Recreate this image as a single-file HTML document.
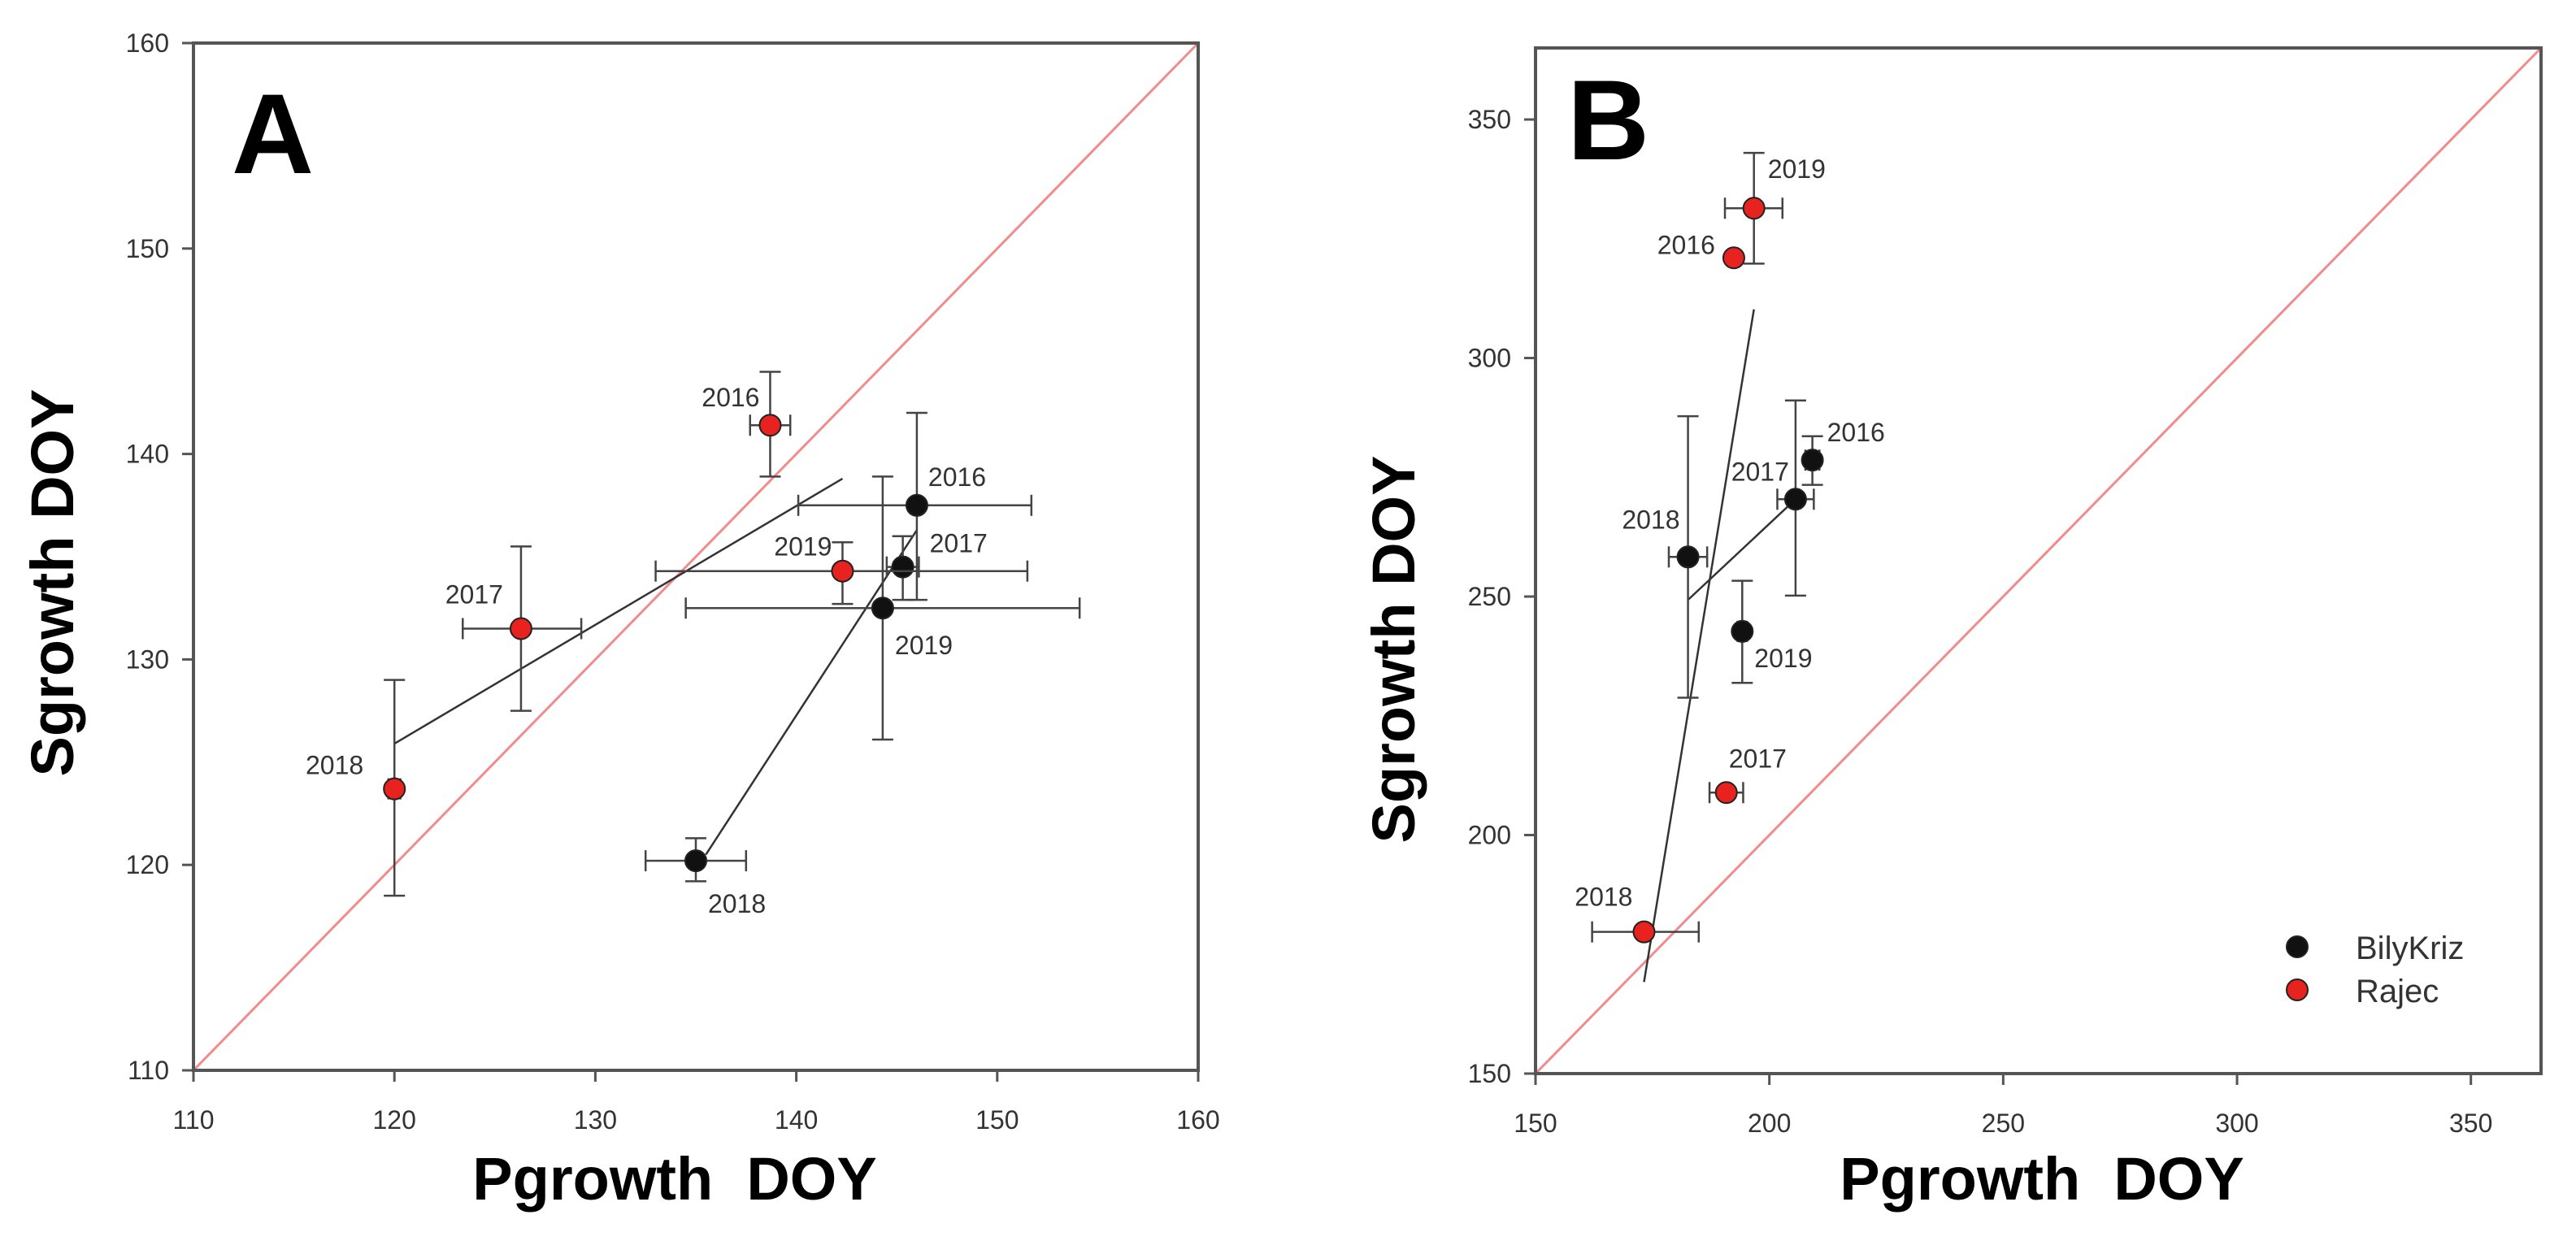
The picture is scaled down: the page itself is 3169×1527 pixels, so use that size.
<!DOCTYPE html>
<html><head><meta charset="utf-8"><style>
html,body{margin:0;padding:0;background:#fff;}
svg{display:block;font-family:"Liberation Sans",Arial,sans-serif;}
</style></head><body>
<svg id="chart" width="3169" height="1527" viewBox="0 0 3169 1527" xmlns="http://www.w3.org/2000/svg"></svg>
<script>
// ---- Panel A data ----
const aYears = ["2016","2017","2018","2019"];
const aRajecX = [138.7,126.3,120.0,142.3];
const aRajecY = [141.4,131.5,123.7,134.3];
const aRajecXLo = [137.7,123.4,119.7,133.0];
const aRajecXHi = [139.7,129.3,120.3,151.5];
const aRajecYLo = [138.9,127.5,118.5,132.7];
const aRajecYHi = [144.0,135.5,129.0,135.7];
const aBilyX = [146.0,145.3,135.0,144.3];
const aBilyY = [137.5,134.5,120.2,132.5];
const aBilyXLo = [140.1,144.5,132.5,134.5];
const aBilyXHi = [151.7,146.1,137.5,154.1];
const aBilyYLo = [132.9,132.9,119.2,126.1];
const aBilyYHi = [142.0,136.0,121.3,138.9];
const aRajecFitX = [120.0,142.3];
const aRajecFitY = [125.9,138.8];
const aBilyFitX = [135.5,146.0];
const aBilyFitY = [120.5,136.3];
const aTicks = [110,120,130,140,150,160];
// ---- Panel B data ----
const bYears = ["2016","2017","2018","2019"];
const bRajecX = [192.4,190.8,173.2,196.7];
const bRajecY = [321.0,208.9,179.7,331.4];
const bRajecXLo = [192.4,187.2,162.1,190.5];
const bRajecXHi = [192.4,194.4,184.9,202.8];
const bRajecYLo = [321.0,208.9,179.7,319.8];
const bRajecYHi = [321.0,208.9,179.7,343.0];
const bBilyX = [209.2,205.6,182.6,194.2];
const bBilyY = [278.6,270.4,258.3,242.7];
const bBilyXLo = [207.7,201.7,178.5,193.2];
const bBilyXHi = [210.7,209.5,186.7,195.2];
const bBilyYLo = [273.4,250.2,228.8,231.9];
const bBilyYHi = [283.6,291.1,287.8,253.3];
const bRajecFitX = [173.2,196.7];
const bRajecFitY = [169.2,310.2];
const bBilyFitX = [182.6,205.6];
const bBilyFitY = [249.3,270.4];
const bXTicks = [150,200,250,300,350];
const bYTicks = [150,200,250,300,350];

const NS="http://www.w3.org/2000/svg";
const svg=document.getElementById('chart');
function el(tag,attrs,parent){const e=document.createElementNS(NS,tag);for(const k in attrs)e.setAttribute(k,attrs[k]);(parent||svg).appendChild(e);return e;}
function txt(s,attrs,parent){const e=el('text',attrs,parent);e.textContent=s;return e;}

function panel(cfg){
  const g=el('g',{});
  
  
  const sx=v=>cfg.L+(v-cfg.min)/(cfg.max-cfg.min)*(cfg.R-cfg.L);
  const sy=v=>cfg.B-(v-cfg.min)/(cfg.max-cfg.min)*(cfg.B-cfg.T);
  // diagonal
  const d=el('line',{x1:sx(cfg.min),y1:sy(cfg.min),x2:sx(cfg.max),y2:sy(cfg.max),stroke:'#f28b8b','stroke-width':3},g);
  
  
  // frame
  const f=el('rect',{x:cfg.L,y:cfg.T,width:cfg.R-cfg.L,height:cfg.B-cfg.T,fill:'none',stroke:'#555','stroke-width':4},g);
  
  
  // ticks
  cfg.xt.forEach(v=>{
    el('line',{x1:sx(v),y1:cfg.B,x2:sx(v),y2:cfg.B+14,stroke:'#555','stroke-width':3},g);
    const t=txt(String(v),{x:sx(v),y:cfg.B+72,'text-anchor':'middle','font-size':32,fill:'#333'},g);
    
    
  });
  cfg.yt.forEach(v=>{
    el('line',{x1:cfg.L-14,y1:sy(v),x2:cfg.L,y2:sy(v),stroke:'#555','stroke-width':3},g);
    const t=txt(String(v),{x:cfg.L-30,y:sy(v)+11,'text-anchor':'end','font-size':32,fill:'#333'},g);
    
    
  });
  // fit lines
  const fr=el('line',{x1:sx(cfg.rfx[0]),y1:sy(cfg.rfy[0]),x2:sx(cfg.rfx[1]),y2:sy(cfg.rfy[1]),stroke:'#333','stroke-width':2.5},g);
  
  
  const fb=el('line',{x1:sx(cfg.bfx[0]),y1:sy(cfg.bfy[0]),x2:sx(cfg.bfx[1]),y2:sy(cfg.bfy[1]),stroke:'#333','stroke-width':2.5},g);
  
  
  function series(X,Y,XL,XH,YL,YH,color,labs,key){
    X.forEach((x,i)=>{
      const c=13;
      const eg=el('g',{stroke:'#444','stroke-width':2.5},g);
      
      
      if(XH[i]-XL[i]>0.01){
        el('line',{x1:sx(XL[i]),y1:sy(Y[i]),x2:sx(XH[i]),y2:sy(Y[i])},eg);
        el('line',{x1:sx(XL[i]),y1:sy(Y[i])-c,x2:sx(XL[i]),y2:sy(Y[i])+c},eg);
        el('line',{x1:sx(XH[i]),y1:sy(Y[i])-c,x2:sx(XH[i]),y2:sy(Y[i])+c},eg);
      }
      if(YH[i]-YL[i]>0.01){
        el('line',{x1:sx(x),y1:sy(YL[i]),x2:sx(x),y2:sy(YH[i])},eg);
        el('line',{x1:sx(x)-c,y1:sy(YL[i]),x2:sx(x)+c,y2:sy(YL[i])},eg);
        el('line',{x1:sx(x)-c,y1:sy(YH[i]),x2:sx(x)+c,y2:sy(YH[i])},eg);
      }
    });
    X.forEach((x,i)=>{
      const p=el('circle',{cx:sx(x),cy:sy(Y[i]),r:13,fill:color,stroke:'#222','stroke-width':2},g);
      
      
      const L=labs[i];
      const t=txt(cfg.years[i],{x:sx(x)+L[0],y:sy(Y[i])+L[1],'text-anchor':L[2],'font-size':32,fill:'#333'},g);
      
      
    });
  }
  series(cfg.bx,cfg.by,cfg.bxl,cfg.bxh,cfg.byl,cfg.byh,'#111',cfg.blab,'bilykriz');
  series(cfg.rx,cfg.ry,cfg.rxl,cfg.rxh,cfg.ryl,cfg.ryh,'#e8231f',cfg.rlab,'rajec');
  // panel letter
  const lt=txt(cfg.letter,{x:cfg.letterX,y:cfg.letterY,'font-size':140,'font-weight':'bold',fill:'#000'},g);
  
  
  const xt=txt('Pgrowth\u00a0\u00a0DOY',{x:cfg.xtX,y:1476,'text-anchor':'middle','font-size':74,'font-weight':'bold',fill:'#000'},g);
  
  
  const yt=txt('Sgrowth DOY',{x:0,y:0,'text-anchor':'middle','font-size':74,'font-weight':'bold',fill:'#000',transform:`translate(${cfg.ytX},${cfg.ytY}) rotate(-90)`},g);
  
  
}

panel({name:'panel-a',L:238,R:1474,T:53,B:1317,min:110,max:160,xt:aTicks,yt:aTicks,years:aYears,
  rx:aRajecX,ry:aRajecY,rxl:aRajecXLo,rxh:aRajecXHi,ryl:aRajecYLo,ryh:aRajecYHi,
  bx:aBilyX,by:aBilyY,bxl:aBilyXLo,bxh:aBilyXHi,byl:aBilyYLo,byh:aBilyYHi,
  rfx:aRajecFitX,rfy:aRajecFitY,bfx:aBilyFitX,bfy:aBilyFitY,
  rlab:[[-13,-23,'end'],[-22,-31,'end'],[-38,-18,'end'],[-13,-19,'end']],
  blab:[[14,-24,'start'],[33,-18,'start'],[15,64,'start'],[15,57,'start']],
  letter:'A',letterX:285,letterY:213,xtX:830,ytX:90,ytY:717});

panel({name:'panel-b',L:1889,R:3126,T:59,B:1321,min:150,max:365,xt:bXTicks,yt:bYTicks,years:bYears,
  rx:bRajecX,ry:bRajecY,rxl:bRajecXLo,rxh:bRajecXHi,ryl:bRajecYLo,ryh:bRajecYHi,
  bx:bBilyX,by:bBilyY,bxl:bBilyXLo,bxh:bBilyXHi,byl:bBilyYLo,byh:bBilyYHi,
  rfx:bRajecFitX,rfy:bRajecFitY,bfx:bBilyFitX,bfy:bBilyFitY,
  rlab:[[-23,-5,'end'],[3,-31,'start'],[-14,-32,'end'],[17,-37,'start']],
  blab:[[18,-23,'start'],[-8,-23,'end'],[-10,-35,'end'],[15,44,'start']],
  letter:'B',letterX:1928,letterY:196,xtX:2512,ytX:1740,ytY:799});

// legend
const lg=el('g',{});


const legNames=['BilyKriz','Rajec'];
const legColors=['#111','#e8231f'];
const legY=[1165,1218];
legNames.forEach((n,i)=>{
  const m=el('circle',{cx:2826,cy:legY[i],r:13,fill:legColors[i],stroke:'#222','stroke-width':2},lg);
  
  
  const t=txt(n,{x:2898,y:legY[i]+15,'font-size':40,fill:'#333'},lg);
  
  
});
</script>
</body></html>
